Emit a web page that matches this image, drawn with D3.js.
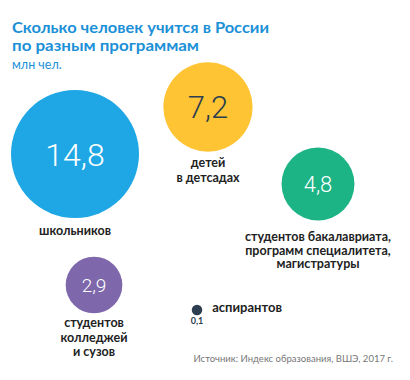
<!DOCTYPE html>
<html>
<head>
<meta charset="utf-8">
<script src="https://cdn.jsdelivr.net/npm/d3@7"></script>
<style>
  body { margin: 0; background: #fff; }
  svg { display: block; }
</style>
</head>
<body>
<div id="chart"></div>
<script>
// data
const categories = ["schools", "kindergartens", "universities", "colleges", "postgrad"];
const values = [14.8, 7.2, 4.8, 2.9, 0.1];
const valueLabels = ["14,8", "7,2", "4,8", "2,9", "0,1"];
const captions = [
  ["школьников"],
  ["детей", "в детсадах"],
  ["студентов бакалавриата,", "программ специалитета,", "магистратуры"],
  ["студентов", "колледжей", "и сузов"],
  ["аспирантов"]
];

const width = 410;
const height = 380;

// layout (bubble centres) and styles
const centres = [[75, 154], [208, 107], [318, 184], [94, 285], [197, 310]];
const fills = ["#1ea7e4", "#fec433", "#1cb385", "#7e68ab", "#2c3e50"];
const numberColors = ["#fff", "#2c3e50", "#fff", "#fff", "#2c3e50"];
const numberSizes = [32, 31, 22, 19, 9];

const r = d3.scaleSqrt().domain([0, d3.max(values)]).range([0, 64]);

const nodes = values.map((v, i) => ({
  id: categories[i],
  value: v,
  label: valueLabels[i],
  caption: captions[i],
  x: centres[i][0],
  y: centres[i][1],
  r: r(v),
  fill: fills[i],
  numColor: numberColors[i],
  numSize: numberSizes[i]
}));

const svg = d3.create("svg")
  .attr("width", width)
  .attr("height", height)
  .attr("font-family", "Lato, 'Open Sans', sans-serif");

// title
const title = svg.append("g").attr("fill", "#1b90d7");
title.append("text").attr("x", 12).attr("y", 33)
  .attr("font-size", 15.5).attr("font-weight", 700)
  .attr("textLength", 257).attr("lengthAdjust", "spacingAndGlyphs")
  .text("Сколько человек учится в России");
title.append("text").attr("x", 12).attr("y", 51)
  .attr("font-size", 15.5).attr("font-weight", 700)
  .attr("textLength", 187).attr("lengthAdjust", "spacingAndGlyphs")
  .text("по разным программам");
title.append("text").attr("x", 12).attr("y", 69)
  .attr("font-size", 12.5).attr("font-weight", 400)
  .text("млн чел.");

const g = svg.append("g")
  .selectAll("g")
  .data(nodes)
  .join("g")
  .attr("transform", d => `translate(${d.x},${d.y})`);

g.append("circle")
  .attr("r", d => d.r)
  .attr("fill", d => d.fill);

// numbers inside bubbles (the tiny one goes below)
g.filter(d => d.r > 10).append("text")
  .attr("text-anchor", "middle")
  .attr("y", d => d.numSize * 0.36)
  .attr("font-family", "Roboto, 'Open Sans', sans-serif")
  .attr("font-weight", 300)
  .attr("font-size", d => d.numSize)
  .attr("fill", d => d.numColor)
  .text(d => d.label);

g.filter(d => d.r <= 10).append("text")
  .attr("text-anchor", "middle")
  .attr("y", 14)
  .attr("font-size", 9)
  .attr("font-weight", 700)
  .attr("fill", "#2c3e50")
  .text(d => d.label);

// captions
const lineHeights = [15, 15, 13.5, 14.5, 14];
const offsets = [17, 15, 21, 14, 0];

g.each(function (d, i) {
  const sel = d3.select(this);
  const t = sel.append("text")
    .attr("fill", "#222")
    .attr("font-size", i === 4 ? 13 : 12.5)
    .attr("font-weight", 700);
  if (i === 4) {
    t.attr("text-anchor", "start");
  } else {
    t.attr("text-anchor", "middle");
  }
  d.caption.forEach((line, j) => {
    const ts = t.append("tspan").text(line);
    if (i === 4) {
      ts.attr("x", d.r + 10).attr("y", 2);
    } else {
      ts.attr("x", 0).attr("y", d.r + offsets[i] + j * lineHeights[i]);
    }
  });
});

// source
svg.append("text")
  .attr("x", 393).attr("y", 362)
  .attr("text-anchor", "end")
  .attr("font-size", 9.5)
  .attr("fill", "#777")
  .text("Источник: Индекс образования, ВШЭ, 2017 г.");

d3.select("#chart").node().appendChild(svg.node());
</script>
</body>
</html>
